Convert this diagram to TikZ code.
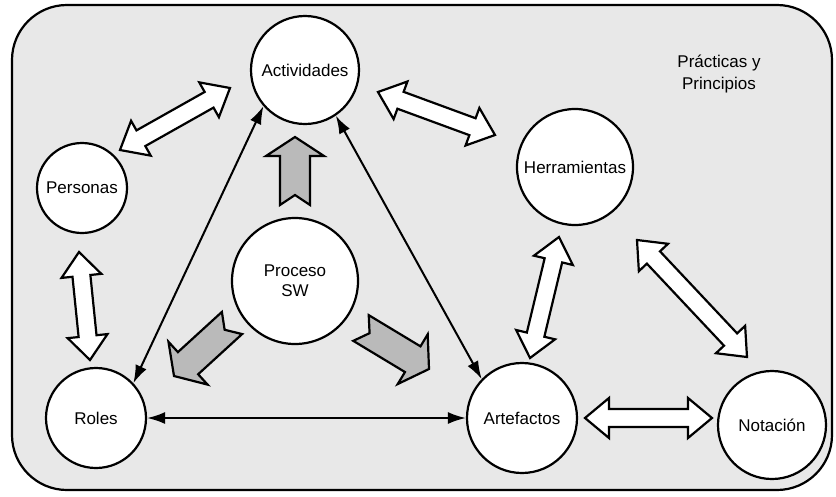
\documentclass[tikz,border=0pt]{standalone}
\usepackage{fontspec}
\setmainfont{Liberation Sans}
\usetikzlibrary{arrows.meta,calc}

\tikzset{
  frame/.style={draw=black, line width=2.2pt, fill=black!9, rounded corners=55pt},
  topic/.style={circle, draw=black, line width=2.2pt, fill=white, inner sep=0pt,
    minimum size=#1, font=\fontsize{17}{20}\selectfont, align=center},
  caption/.style={font=\fontsize{17}{22}\selectfont, align=center},
  link/.style={line width=2pt,
    {Latex[length=18pt,width=12pt]}-{Latex[length=18pt,width=12pt]}},
  hollow/.style={draw=black, line width=2.2pt, fill=white, line join=miter},
  flow/.style={draw=black, line width=2.2pt, fill=black!27, line join=miter},
}

% hollow two-headed block arrow between two points
\newcommand\hollowlink[2]{%
  \path[hollow] (#1)
   -- ($(#1)!24pt!(#2)!20pt!90:(#2)$)
   -- ($(#1)!24pt!(#2)!9pt!90:(#2)$)
   -- ($(#2)!24pt!(#1)!9pt!-90:(#1)$)
   -- ($(#2)!24pt!(#1)!20pt!-90:(#1)$)
   -- (#2)
   -- ($(#2)!24pt!(#1)!20pt!90:(#1)$)
   -- ($(#2)!24pt!(#1)!9pt!90:(#1)$)
   -- ($(#1)!24pt!(#2)!9pt!-90:(#2)$)
   -- ($(#1)!24pt!(#2)!20pt!-90:(#2)$)
   -- cycle;}

% shaded block arrow with a notched tail, from tail (#1) to tip (#2)
\newcommand\flowarrow[2]{%
  \path[flow] (#2)
   -- ($(#2)!19pt!(#1)!29pt!90:(#1)$)
   -- ($(#2)!19pt!(#1)!15pt!90:(#1)$)
   -- ($(#1)!15pt!-90:(#2)$)
   -- ($(#1)!10pt!(#2)$)
   -- ($(#1)!15pt!90:(#2)$)
   -- ($(#2)!19pt!(#1)!15pt!-90:(#1)$)
   -- ($(#2)!19pt!(#1)!29pt!-90:(#1)$)
   -- cycle;}

\begin{document}
\begin{tikzpicture}[x=1pt,y=-1pt]
  \useasboundingbox (0,0) rectangle (836,496);

  % framing area
  \path[frame] (12,5) rectangle (832,490);

  % topics
  \node[topic=108pt] (act)   at (305,70)  {Actividades};
  \node[topic=90pt]  (pers)  at (82,188)  {Personas};
  \node[topic=116pt] (herr)  at (575,167) {Herramientas};
  \node[topic=126pt] (proc)  at (295,281) {Proceso\\SW};
  \node[topic=100pt] (roles) at (96,418)  {Roles};
  \node[topic=110pt] (arte)  at (522,418) {Artefactos};
  \node[topic=108pt] (nota)  at (772,425) {Notación};

  \node[caption] (prac) at (719,74) {Prácticas y\\Principios};

  % end points of the block arrows
  \coordinate (pa1) at (120,150);  \coordinate (pa2) at (230,88);
  \coordinate (ah1) at (378,92);   \coordinate (ah2) at (495,135);
  \coordinate (pr1) at (79,252);   \coordinate (pr2) at (90,360);
  \coordinate (ha1) at (559,237);  \coordinate (ha2) at (530,358);
  \coordinate (hn1) at (637,240);  \coordinate (hn2) at (747,357);
  \coordinate (an1) at (585,418);  \coordinate (an2) at (712,418);

  \coordinate (up0) at (295,205);  \coordinate (up1) at (295,137);
  \coordinate (lf0) at (232,323);  \coordinate (lf1) at (174,376);
  \coordinate (rt0) at (361,328);  \coordinate (rt1) at (429,369);

  % two-way block arrows
  \hollowlink{pa1}{pa2}
  \hollowlink{ah1}{ah2}
  \hollowlink{pr1}{pr2}
  \hollowlink{ha1}{ha2}
  \hollowlink{hn1}{hn2}
  \hollowlink{an1}{an2}

  % arrows out of the process
  \flowarrow{up0}{up1}
  \flowarrow{lf0}{lf1}
  \flowarrow{rt0}{rt1}

  % thin two-way links
  \draw[link] (act.221) -- (roles.43);
  \draw[link] (act.304) -- (arte.136);
  \draw[link] (roles) -- (arte);
\end{tikzpicture}
\end{document}
